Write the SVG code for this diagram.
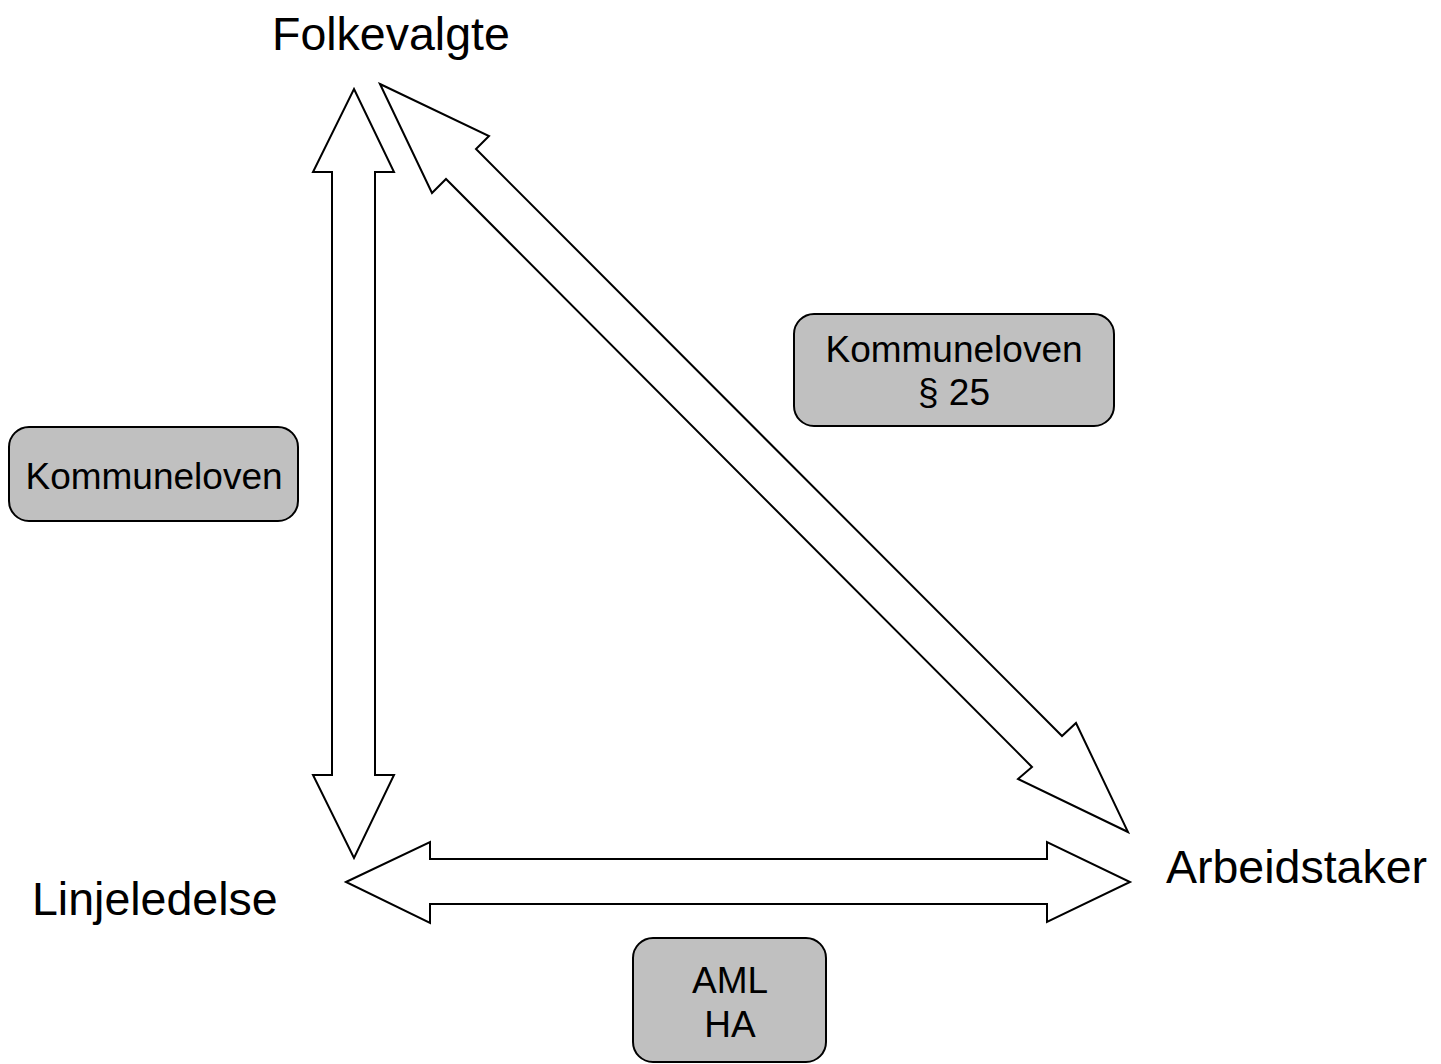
<svg xmlns="http://www.w3.org/2000/svg" width="1441" height="1064" viewBox="0 0 1441 1064">
<style>
.arrow{fill:#fff;stroke:#000;stroke-width:2;stroke-linejoin:miter}
.box{fill:#c0c0c0;stroke:#000;stroke-width:2}
.lbl{font-family:"Liberation Sans",Arial,sans-serif;font-size:46.5px;fill:#000}
.bt{font-family:"Liberation Sans",Arial,sans-serif;font-size:37px;fill:#000;text-anchor:middle}
</style>
<rect width="1441" height="1064" fill="#fff"/>
<g id="connectors">
<polygon id="arrow-vertical" class="arrow" points="354,89 394,172 375,172 375,775 394,775 354,858 313,775 332,775 332,172 313,172"/>
<polygon id="arrow-horizontal" class="arrow" points="346,882 430,842 430,859 1047,859 1047,842 1130,882 1047,922 1047,904 430,904 430,923"/>
<polygon id="arrow-diagonal" class="arrow" points="380,84 489,136 476,149 1062,736 1076,723 1128,832 1018,779 1032,767 446,179 432,193"/>
</g>
<g id="node-folkevalgte"><text class="lbl" x="272" y="50">Folkevalgte</text></g>
<g id="node-linjeledelse"><text class="lbl" x="32" y="915">Linjeledelse</text></g>
<g id="node-arbeidstaker"><text class="lbl" x="1166" y="883">Arbeidstaker</text></g>
<g id="box-kommuneloven">
<rect class="box" x="9" y="427" width="289" height="94" rx="20"/>
<text class="bt" x="154" y="489">Kommuneloven</text>
</g>
<g id="box-kommuneloven-25">
<rect class="box" x="794" y="314" width="320" height="112" rx="20"/>
<text class="bt" x="954" y="362">Kommuneloven</text>
<text class="bt" x="954" y="405">§ 25</text>
</g>
<g id="box-aml-ha">
<rect class="box" x="633" y="938" width="193" height="124" rx="20"/>
<text class="bt" x="730" y="993">AML</text>
<text class="bt" x="730" y="1037">HA</text>
</g>
</svg>
